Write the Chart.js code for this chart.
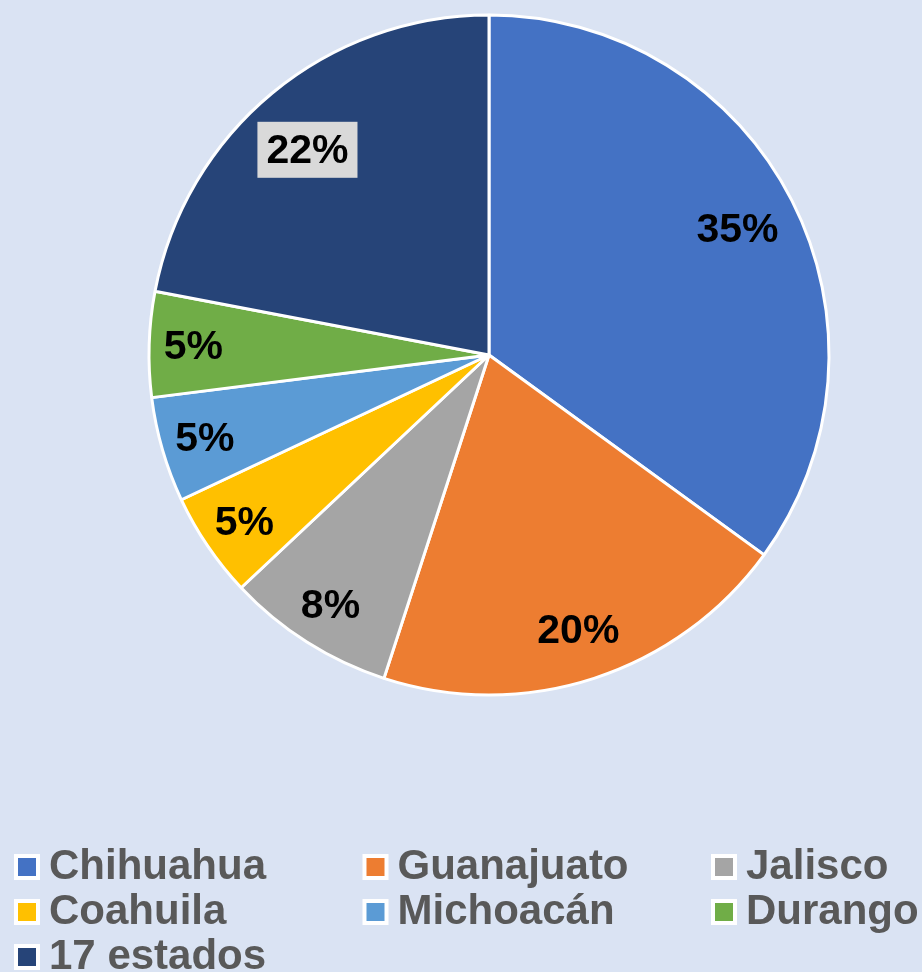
<!DOCTYPE html>
<html>
<head>
<meta charset="utf-8">
<script src="https://cdn.jsdelivr.net/npm/chart.js@4.4.1/dist/chart.umd.min.js"></script>
<style>
  html, body { margin: 0; padding: 0; background: #dae3f3; }
  #wrap { width: 922px; height: 972px; position: relative; }
</style>
</head>
<body>
<div id="wrap"><canvas id="pie" width="922" height="972"></canvas></div>
<script>
// Chart values
const states = ['Chihuahua', 'Guanajuato', 'Jalisco', 'Coahuila', 'Michoacán', 'Durango', '17 estados'];
const shares = [35, 20, 8, 5, 5, 5, 22];
const sliceColors = ['#4472c4', '#ed7d31', '#a5a5a5', '#ffc000', '#5b9bd5', '#70ad47', '#264478'];

const FONT = '"Liberation Sans", Arial, sans-serif';

// percentage labels drawn on top of each arc
const sliceLabels = {
  id: 'sliceLabels',
  afterDatasetsDraw(chart, args, opts) {
    const ctx = chart.ctx;
    const arcs = chart.getDatasetMeta(0).data;
    ctx.save();
    ctx.font = `bold ${opts.size}px ${FONT}`;
    ctx.textAlign = 'center';
    ctx.textBaseline = 'middle';
    arcs.forEach((arc, i) => {
      const {x, y, startAngle, endAngle, outerRadius} = arc.getProps(['x', 'y', 'startAngle', 'endAngle', 'outerRadius'], true);
      const mid = (startAngle + endAngle) / 2;
      const r = outerRadius * opts.ratios[i];
      const [dx, dy] = opts.nudge[i] || [0, 0];
      const lx = x + Math.cos(mid) * r + dx;
      const ly = y + Math.sin(mid) * r + dy;
      const txt = chart.data.datasets[0].data[i] + '%';
      if (opts.boxed[i]) {
        const w = ctx.measureText(txt).width + 18;
        const h = 56;
        ctx.fillStyle = '#d9d9d9';
        ctx.fillRect(lx - w / 2, ly - h / 2, w, h);
      }
      ctx.fillStyle = '#000';
      ctx.fillText(txt, lx, ly + 2);
    });
    ctx.restore();
  }
};

// three-column legend underneath the pie
const gridLegend = {
  id: 'gridLegend',
  afterDraw(chart, args, opts) {
    const ctx = chart.ctx;
    const colors = chart.data.datasets[0].backgroundColor;
    ctx.save();
    ctx.font = `bold ${opts.size}px ${FONT}`;
    ctx.textBaseline = 'alphabetic';
    chart.data.labels.forEach((lbl, i) => {
      const col = i % opts.columns;
      const row = Math.floor(i / opts.columns);
      const bx = opts.left + col * opts.colWidth;
      const by = opts.top + row * opts.rowHeight;
      ctx.fillStyle = '#fff';
      ctx.fillRect(bx, by, 26, 26);
      ctx.fillStyle = colors[i];
      ctx.fillRect(bx + 4, by + 4, 18, 18);
      ctx.fillStyle = '#595959';
      ctx.fillText(lbl, bx + 35, by + 25);
    });
    ctx.restore();
  }
};

new Chart(document.getElementById('pie'), {
  type: 'pie',
  data: {
    labels: states,
    datasets: [{
      data: shares,
      backgroundColor: sliceColors,
      borderColor: '#ffffff',
      borderWidth: 3
    }]
  },
  options: {
    responsive: false,
    animation: false,
    radius: 340,
    layout: { padding: { left: 56, right: 0, top: 0, bottom: 262 } },
    plugins: {
      legend: { display: false },
      tooltip: { enabled: false },
      sliceLabels: {
        size: 41,
        ratios: [0.82, 0.85, 0.87, 0.87, 0.87, 0.87, 0.81],
        nudge: [[0, 0], [0, 0], [0, 0], [0, 0], [0, 0], [0, 0], [-6, 7]],
        boxed: [false, false, false, false, false, false, true]
      },
      gridLegend: { size: 42, columns: 3, left: 14, colWidth: 348.5, top: 854, rowHeight: 45 }
    }
  },
  plugins: [sliceLabels, gridLegend]
});
</script>
</body>
</html>
